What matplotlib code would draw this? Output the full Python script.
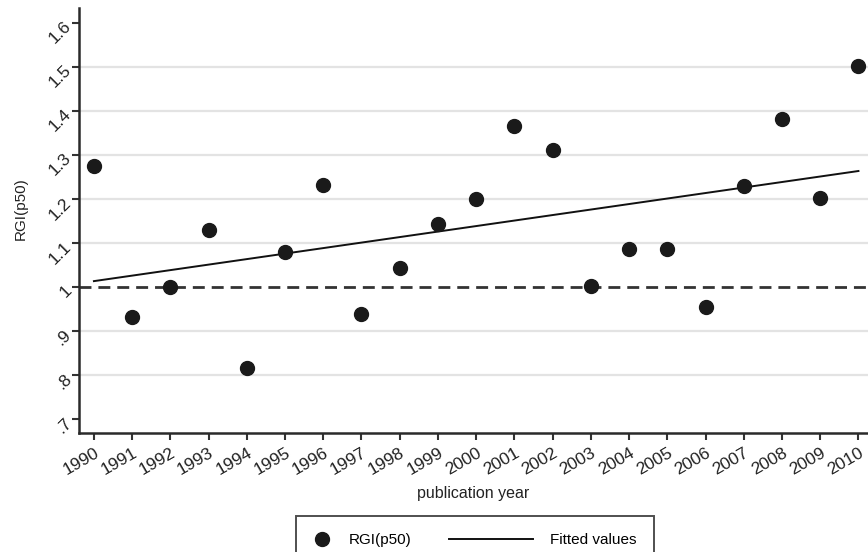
import numpy as np
import matplotlib
matplotlib.use("Agg")
from matplotlib import pyplot as plt
from matplotlib.lines import Line2D

plt.rcParams['font.family'] = ['Liberation Sans', 'DejaVu Sans']

# values
years = np.arange(1990, 2011)
rgi_p50 = [1.276, 0.933, 1.001, 1.129, 0.817, 1.081, 1.233, 0.939, 1.044, 1.143,
           1.201, 1.365, 1.312, 1.002, 1.086, 1.086, 0.954, 1.229, 1.381, 1.202, 1.502]
y_ticks = [0.7, 0.8, 0.9, 1.0, 1.1, 1.2, 1.3, 1.4, 1.5, 1.6]
y_tick_labels = [".7", ".8", ".9", "1", "1.1", "1.2", "1.3", "1.4", "1.5", "1.6"]
grid_levels = [0.8, 0.9, 1.1, 1.2, 1.3, 1.4, 1.5]

# linear fit, like Stata's lfit
slope, intercept = np.polyfit(years, rgi_p50, 1)
fitted = slope * years + intercept

fig = plt.figure(figsize=(8.68, 5.52), dpi=100)
ax = fig.add_axes([79 / 868, 1 - 433 / 552, 1 - 79 / 868, (433 - 8) / 552])

for g in grid_levels:
    ax.axhline(g, color="#e3e3e3", lw=1.6, zorder=0)
ax.axhline(1.0, color="#333333", lw=2.0, dashes=(4.3, 2.5), zorder=1)

ax.plot(years, fitted, color="#111111", lw=1.4, zorder=2)
ax.plot(years, rgi_p50, "o", color="#1a1a1a", ms=10, zorder=3)

ax.set_xlim(1989.61, 2010.25)
ax.set_ylim(0.669, 1.634)

ax.set_xticks(years)
ax.set_xticklabels([str(y) for y in years], rotation=30, ha="right",
                   rotation_mode="anchor", fontsize=12.5, color="#222222")
ax.set_yticks(y_ticks)
ax.set_yticklabels(y_tick_labels, rotation=45, ha="right",
                   rotation_mode="anchor", fontsize=12.5, color="#222222")
ax.tick_params(axis="both", length=5, width=1.5, color="#333333")
ax.tick_params(axis="x", pad=4)
ax.tick_params(axis="y", pad=3)

for side in ["top", "right"]:
    ax.spines[side].set_visible(False)
for side in ["left", "bottom"]:
    ax.spines[side].set_linewidth(1.8)
    ax.spines[side].set_color("#2a2a2a")

ax.set_xlabel("publication year", fontsize=11.5, color="#222222", labelpad=6)
ax.set_ylabel("RGI(p50)", fontsize=11, color="#222222")
ax.yaxis.set_label_coords(-0.065, 0.527)

handles = [Line2D([], [], marker="o", ls="none", color="#1a1a1a", ms=10),
           Line2D([], [], color="#111111", lw=1.4)]
leg = fig.legend(handles, ["RGI(p50)", "Fitted values"], ncol=2,
                 loc="upper center", bbox_to_anchor=(475 / 868, 1 - 508 / 552),
                 frameon=True, fancybox=False, fontsize=11, handlelength=1.2,
                 columnspacing=6.8, borderpad=1.15, handletextpad=1.1)
leg.get_frame().set_edgecolor("#222222")
leg.get_frame().set_linewidth(1.4)
# the line handle in the reference is longer than the marker slot
line_handle = leg.legend_handles[1]
xd = np.asarray(line_handle.get_xdata(), dtype=float)
yd = np.asarray(line_handle.get_ydata(), dtype=float)
line_handle.set_data([xd.max() - 61, xd.max()], [yd[0], yd[0]])

fig.savefig("out.png", dpi=100)
